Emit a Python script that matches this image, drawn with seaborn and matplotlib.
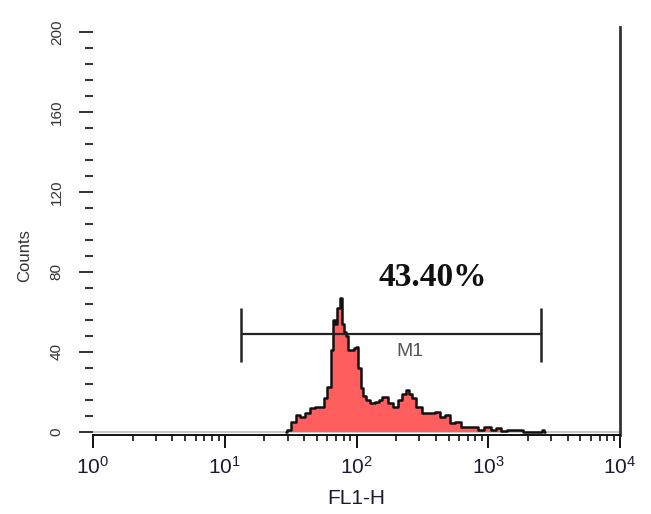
import numpy as np
import pandas as pd
import matplotlib
matplotlib.use("Agg")
import matplotlib.pyplot as plt
import matplotlib.ticker as mticker
import seaborn as sns

# ---- data ----
fl1_h = [29.0, 30.2, 33.0, 36.0, 38.6, 42.1, 45.9, 51.0, 55.7, 57.6, 61.8, 65.2, 67.5,
         69.9, 72.4, 76.3, 79.0, 81.8, 84.7, 87.7, 92.4, 97.4, 100.9, 104.5, 110,
         116, 122, 133, 143, 151, 164, 180, 196, 214, 229, 242, 255, 268, 293, 331,
         381, 408, 446, 486, 531, 589, 643, 727, 793, 866, 995, 1086, 1186, 1294,
         1463, 1596, 1741, 1900, 2500, 2604, 2700]
counts = [0, 1, 5, 8.5, 7.5, 9.5, 12, 12.5, 12.5, 17, 22.5, 41, 56,
          54, 62, 67, 54, 50, 48, 41, 41, 42, 42.5, 32, 22,
          18, 16, 14.5, 15, 16, 17.5, 14.5, 12.5, 16, 19, 21, 19, 17, 12.5, 9.5,
          9.5, 10, 7.5, 8.5, 4.5, 5, 2.5, 2.5, 2.5, 1, 2.5, 1, 2, 0.5,
          1, 1, 1, 0, 0, 1, 0]

marker_range = [13.3, 2513]
marker_level = 49
marker_bar = [35, 62]
marker_name = "M1"
gate_percent = "43.40%"
x_ticks = [1, 10, 100, 1000, 10000]
x_ticklabels = ["$10^0$", "$10^1$", "$10^2$", "$10^3$", "$10^4$"]
y_ticks = [0, 40, 80, 120, 160, 200]

df = pd.DataFrame({"FL1-H": fl1_h, "Counts": counts})

sns.set_theme(style="white")
plt.rcParams["font.family"] = ["Liberation Sans", "DejaVu Sans"]
plt.rcParams["mathtext.fontset"] = "custom"
plt.rcParams["mathtext.rm"] = "Liberation Sans"
plt.rcParams["mathtext.it"] = "Liberation Sans"
plt.rcParams["mathtext.bf"] = "Liberation Sans:bold"

fig = plt.figure(figsize=(6.51, 5.14), dpi=100)
ax = fig.add_axes([93 / 651, 79 / 514, 527 / 651, 408 / 514])
ax.set_xscale("log")

ax.fill_between(df["FL1-H"], df["Counts"], step="mid", color="#ff5e5e", linewidth=0, zorder=2)
sns.lineplot(data=df, x="FL1-H", y="Counts", ax=ax, drawstyle="steps-mid",
             color="#111111", linewidth=1.8, zorder=3, estimator=None, sort=False)

ax.axhline(0, color="#c8c8c8", linewidth=1.5, zorder=1)

# marker M1
ax.hlines(marker_level, marker_range[0], marker_range[1], color="#222222", linewidth=1.6, zorder=4)
ax.vlines(marker_range, marker_bar[0], marker_bar[1], color="#222222", linewidth=1.8, zorder=4)
ax.text(255, 40, marker_name, ha="center", va="center", fontsize=14, color="#555555")
ax.text(376, 77, gate_percent, ha="center", va="center", fontsize=24, fontweight="bold",
        family=["Liberation Serif", "DejaVu Serif"], color="#111111")

ax.set_xlim(1, 10000)
ax.set_ylim(-1.5, 202.5)

ax.set_xticks(x_ticks)
ax.set_xticklabels(x_ticklabels)
ax.xaxis.set_minor_locator(mticker.LogLocator(base=10, subs=np.arange(2, 10), numticks=20))
ax.xaxis.set_minor_formatter(mticker.NullFormatter())
ax.tick_params(axis="x", which="major", direction="out", length=9, width=1.4, color="#111111",
               labelsize=15, labelcolor="#1a1a30", pad=6, bottom=True)
ax.tick_params(axis="x", which="minor", direction="out", length=4.5, width=1.2, color="#111111",
               bottom=True)

ax.set_yticks(y_ticks)
ax.yaxis.set_minor_locator(mticker.MultipleLocator(8))
ax.tick_params(axis="y", which="major", direction="out", length=10, width=1.3, color="#222222",
               labelsize=11, labelcolor="#333333", labelrotation=90, pad=11, left=True)
ax.tick_params(axis="y", which="minor", direction="out", length=5.5, width=1.3, color="#222222",
               left=True)
for lbl in ax.get_yticklabels():
    lbl.set_va("center")

ax.set_xlabel("FL1-H", fontsize=15, color="#1a1a30", labelpad=8)
ax.set_ylabel("Counts", fontsize=12, color="#333333")
ax.yaxis.set_label_coords(-0.115, 0.44)

ax.spines["top"].set_visible(False)
ax.spines["left"].set_visible(False)
ax.spines["right"].set_visible(True)
ax.spines["right"].set_color("#333333")
ax.spines["right"].set_linewidth(2)
ax.spines["bottom"].set_color("#111111")
ax.spines["bottom"].set_linewidth(1.4)

fig.savefig("out.png", dpi=100, facecolor="white")
